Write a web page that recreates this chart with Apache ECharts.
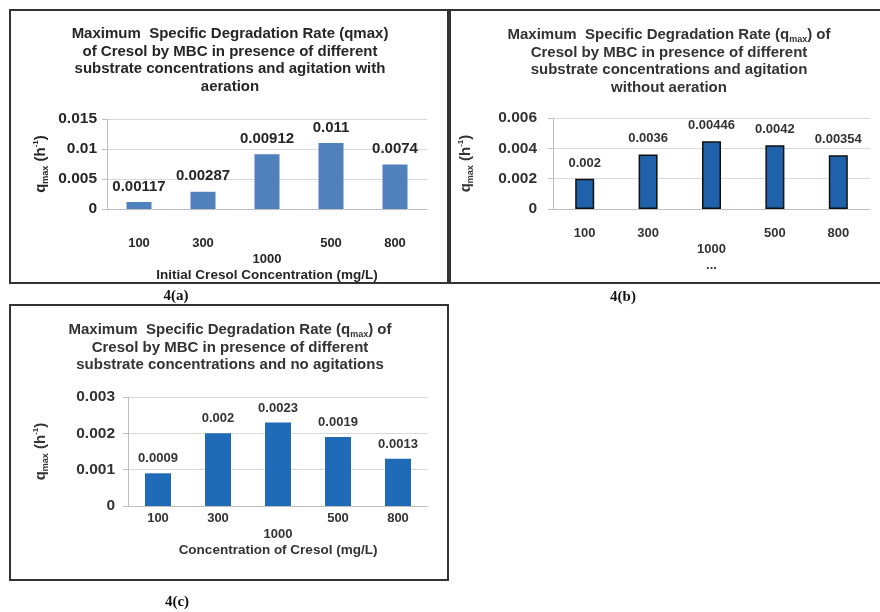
<!DOCTYPE html>
<html>
<head>
<meta charset="utf-8">
<title>Maximum Specific Degradation Rate of Cresol by MBC</title>
<script src="https://cdn.jsdelivr.net/npm/echarts@6/dist/echarts.min.js"></script>
<style>
  html, body { margin: 0; padding: 0; background: #fff; }
  #main { width: 880px; height: 612px; }
</style>
</head>
<body>
<div id="main"></div>
<script>
// initial cresol concentration (mg/L), order as printed under the bars
const categories = ['100', '300', '1000', '500', '800'];
// 4(a) agitation with aeration
const qmaxAeration = [0.00117, 0.00287, 0.00912, 0.011, 0.0074];
// 4(b) agitation without aeration
const qmaxNoAeration = [0.002, 0.0036, 0.00446, 0.0042, 0.00354];
// 4(c) no agitation
const qmaxNoAgitation = [0.0009, 0.002, 0.0023, 0.0019, 0.0013];
// y axis ticks of each panel
const ticksA = [0, 0.005, 0.01, 0.015];
const ticksB = [0, 0.002, 0.004, 0.006];
const ticksC = [0, 0.001, 0.002, 0.003];

const font = '"Liberation Sans", Arial, sans-serif';
const gridColor = '#d9d9d9';
const axisColor = '#bfbfbf';

// q_max (h^-1), rotated
function yAxisFor(gridIndex, ticks, labelMargin, nameGap, color) {
    return {
        type: 'value',
        gridIndex: gridIndex,
        min: ticks[0],
        max: ticks[ticks.length - 1],
        interval: ticks[1] - ticks[0],
        axisLine: { show: true, lineStyle: { color: axisColor } },
        axisTick: { show: true, length: 5, lineStyle: { color: axisColor } },
        splitLine: { show: true, lineStyle: { color: gridColor, width: 1 } },
        axisLabel: { color: color, fontSize: 15.5, fontWeight: 'bold', fontFamily: font, margin: labelMargin },
        name: '{q|q}{sub|max}{q| (h}{sup|-1}{q|)}',
        nameLocation: 'middle',
        nameRotate: 90,
        nameGap: nameGap,
        nameTextStyle: {
            color: color, fontFamily: font, fontWeight: 'bold', lineHeight: 18,
            rich: {
                q: { fontSize: 15, fontWeight: 'bold', fontFamily: font, color: color },
                sub: { fontSize: 9, fontFamily: font, color: color, verticalAlign: 'bottom', lineHeight: 10 },
                sup: { fontSize: 8, fontFamily: font, color: color, verticalAlign: 'top', lineHeight: 10 }
            }
        }
    };
}

function xAxisFor(gridIndex, margin, formatter, name, nameGap, color) {
    return {
        type: 'category',
        gridIndex: gridIndex,
        data: categories,
        axisLine: { show: true, lineStyle: { color: axisColor } },
        axisTick: { show: false },
        axisLabel: {
            interval: 0, margin: margin, color: color, fontSize: 13, fontWeight: 'bold',
            fontFamily: font, lineHeight: 16, formatter: formatter
        },
        name: name,
        nameLocation: 'middle',
        nameGap: nameGap,
        nameMoveOverlap: false,
        nameTextStyle: { color: color, fontSize: 13.5, fontWeight: 'bold', fontFamily: font }
    };
}

function titleFor(text, x, y, color) {
    return {
        text: text,
        left: x,
        top: y,
        textAlign: 'center',
        padding: 0,
        textStyle: {
            color: color, fontSize: 15, fontWeight: 'bold', fontFamily: font, lineHeight: 17.7,
            rich: {
                s: { fontSize: 9, fontFamily: font, color: color, verticalAlign: 'bottom', lineHeight: 10 }
            }
        }
    };
}

let myChart = echarts.init(document.getElementById('main'));
myChart.setOption({
    animation: false,
    backgroundColor: '#fff',
    title: [
        titleFor('Maximum  Specific Degradation Rate (qmax)\nof Cresol by MBC in presence of different\nsubstrate concentrations and agitation with\naeration', 230, 25, '#262626'),
        titleFor('Maximum  Specific Degradation Rate (q{s|max}) of\nCresol by MBC in presence of different\nsubstrate concentrations and agitation\nwithout aeration', 669, 26, '#333'),
        titleFor('Maximum  Specific Degradation Rate (q{s|max}) of\nCresol by MBC in presence of different\nsubstrate concentrations and no agitations', 230, 321, '#333')
    ],
    grid: [
        { left: 107, top: 119, width: 320, height: 90, outerBoundsMode: 'none' },
        { left: 553, top: 118, width: 317, height: 91, outerBoundsMode: 'none' },
        { left: 128, top: 397, width: 300, height: 109, outerBoundsMode: 'none' }
    ],
    xAxis: [
        xAxisFor(0, 26, function (v, i) { return i === 2 ? '\n' + v : v; },
            'Initial Cresol Concentration (mg/L)', 59, '#262626'),
        xAxisFor(1, 16, function (v, i) { return i === 2 ? '\n' + v + '\n...' : v; },
            '', 40, '#333'),
        xAxisFor(2, 4, function (v, i) { return i === 2 ? '\n' + v : v; },
            'Concentration of Cresol (mg/L)', 37, '#333')
    ],
    yAxis: [
        yAxisFor(0, ticksA, 10, 57, '#262626'),
        yAxisFor(1, ticksB, 16, 78, '#333'),
        yAxisFor(2, ticksC, 13, 78, '#333')
    ],
    series: [
        {
            type: 'bar', xAxisIndex: 0, yAxisIndex: 0, data: qmaxAeration, barWidth: 25,
            itemStyle: { color: '#4f81bd' },
            label: { show: true, position: 'top', distance: 8, color: '#262626', fontSize: 15, fontWeight: 'bold', fontFamily: font }
        },
        {
            type: 'bar', xAxisIndex: 1, yAxisIndex: 1, data: qmaxNoAeration, barWidth: 19,
            itemStyle: { color: '#1f62ab', borderColor: '#111', borderWidth: 1.5 },
            label: { show: true, position: 'top', distance: 9, color: '#333', fontSize: 13, fontWeight: 'bold', fontFamily: font }
        },
        {
            type: 'bar', xAxisIndex: 2, yAxisIndex: 2, data: qmaxNoAgitation, barWidth: 26,
            itemStyle: { color: '#1f6bb8' },
            label: { show: true, position: 'top', distance: 8, color: '#333', fontSize: 13, fontWeight: 'bold', fontFamily: font }
        }
    ],
    graphic: [
        // panel frames
        { type: 'rect', shape: { x: 10, y: 10, width: 438, height: 273 }, style: { fill: 'none', stroke: '#333', lineWidth: 2 } },
        { type: 'rect', shape: { x: 450, y: 10, width: 440, height: 273 }, style: { fill: 'none', stroke: '#333', lineWidth: 2 } },
        { type: 'rect', shape: { x: 10, y: 305, width: 438, height: 275 }, style: { fill: 'none', stroke: '#333', lineWidth: 2 } },
        // captions
        { type: 'text', x: 176, y: 296, style: { text: '4(a)', font: 'bold 15px "Liberation Serif", "Times New Roman", serif', fill: '#111', textAlign: 'center', textVerticalAlign: 'middle' } },
        { type: 'text', x: 623, y: 297, style: { text: '4(b)', font: 'bold 15px "Liberation Serif", "Times New Roman", serif', fill: '#111', textAlign: 'center', textVerticalAlign: 'middle' } },
        { type: 'text', x: 177, y: 602, style: { text: '4(c)', font: 'bold 15px "Liberation Serif", "Times New Roman", serif', fill: '#111', textAlign: 'center', textVerticalAlign: 'middle' } }
    ]
});
</script>
</body>
</html>
